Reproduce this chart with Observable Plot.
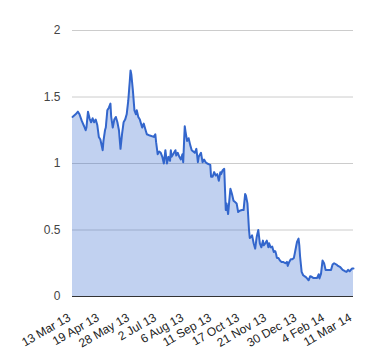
<!DOCTYPE html>
<html>
<head>
<meta charset="utf-8">
<script src="https://cdn.jsdelivr.net/npm/d3@7"></script>
<script src="https://cdn.jsdelivr.net/npm/@observablehq/plot@0.6"></script>
<style>
  html, body { margin: 0; padding: 0; background: #fff; }
  #chart svg { display: block; }
</style>
</head>
<body>
<div id="chart"></div>
<script>
const dates = [
  "2013-03-13","2013-03-17","2013-03-20","2013-03-22","2013-03-25","2013-03-28","2013-03-30","2013-03-31",
  "2013-04-02","2013-04-04","2013-04-06","2013-04-08","2013-04-10","2013-04-12","2013-04-14","2013-04-16",
  "2013-04-18","2013-04-21","2013-04-22","2013-04-24","2013-04-25","2013-04-27","2013-04-29","2013-05-01",
  "2013-05-02","2013-05-04","2013-05-06","2013-05-08","2013-05-10","2013-05-12","2013-05-14","2013-05-16",
  "2013-05-18","2013-05-20","2013-05-22","2013-05-24","2013-05-26","2013-05-27","2013-05-28","2013-05-30",
  "2013-06-01","2013-06-03","2013-06-04","2013-06-06","2013-06-08","2013-06-11","2013-06-13","2013-06-15",
  "2013-06-17","2013-06-21","2013-06-26","2013-06-28","2013-06-29","2013-07-01","2013-07-03","2013-07-05",
  "2013-07-07","2013-07-09","2013-07-11","2013-07-13","2013-07-15","2013-07-17","2013-07-18","2013-07-19",
  "2013-07-21","2013-07-24","2013-07-25","2013-07-27","2013-07-29","2013-07-31","2013-08-02","2013-08-03",
  "2013-08-05","2013-08-06","2013-08-08","2013-08-10","2013-08-12","2013-08-14","2013-08-16","2013-08-18",
  "2013-08-20","2013-08-22","2013-08-23","2013-08-26","2013-08-28","2013-08-30","2013-09-01","2013-09-03",
  "2013-09-07","2013-09-08","2013-09-10","2013-09-12","2013-09-14","2013-09-16","2013-09-18","2013-09-20",
  "2013-09-21","2013-09-23","2013-09-25","2013-09-27","2013-09-28","2013-09-30","2013-10-02","2013-10-03",
  "2013-10-05","2013-10-07","2013-10-09","2013-10-11","2013-10-13","2013-10-15","2013-10-18","2013-10-20",
  "2013-10-22","2013-10-23","2013-10-25","2013-10-27","2013-10-28","2013-10-30","2013-10-31","2013-11-02",
  "2013-11-04","2013-11-06","2013-11-08","2013-11-10","2013-11-12","2013-11-14","2013-11-15","2013-11-17",
  "2013-11-19","2013-11-21","2013-11-22","2013-11-24","2013-11-26","2013-11-28","2013-11-30","2013-12-01",
  "2013-12-02","2013-12-04","2013-12-06","2013-12-08","2013-12-10","2013-12-13","2013-12-15","2013-12-16",
  "2013-12-18","2013-12-20","2013-12-22","2013-12-24","2013-12-26","2013-12-28","2013-12-30","2013-12-31",
  "2014-01-01","2014-01-03","2014-01-05","2014-01-08","2014-01-10","2014-01-12","2014-01-14","2014-01-16",
  "2014-01-18","2014-01-20","2014-01-23","2014-01-25","2014-01-26","2014-01-28","2014-01-30","2014-02-01",
  "2014-02-03","2014-02-07","2014-02-10","2014-02-12","2014-02-14","2014-02-17","2014-02-19","2014-02-22",
  "2014-02-25","2014-02-28","2014-03-02","2014-03-04","2014-03-06","2014-03-09","2014-03-11"
];
const values = [
  1.35,1.37,1.39,1.37,1.32,1.28,1.25,1.27,
  1.39,1.34,1.31,1.34,1.31,1.33,1.29,1.20,
  1.18,1.10,1.17,1.25,1.27,1.40,1.42,1.45,
  1.35,1.27,1.33,1.35,1.31,1.25,1.11,1.22,
  1.31,1.33,1.37,1.47,1.62,1.70,1.67,1.55,
  1.40,1.37,1.40,1.35,1.33,1.27,1.30,1.26,
  1.22,1.21,1.20,1.22,1.16,1.07,1.09,1.08,
  1.05,1.00,1.10,1.00,1.05,1.02,1.10,1.05,
  1.07,1.10,1.06,1.08,1.05,1.03,1.07,1.01,
  1.28,1.24,1.17,1.19,1.14,1.10,1.09,1.08,
  1.11,1.01,1.05,1.08,1.01,1.03,1.01,1.00,
  0.99,0.90,0.90,0.935,0.91,0.92,0.87,0.935,
  0.92,0.95,0.96,0.65,0.70,0.62,0.75,0.81,
  0.77,0.72,0.71,0.70,0.635,0.645,0.65,0.65,
  0.77,0.76,0.70,0.50,0.44,0.45,0.46,0.40,
  0.36,0.45,0.50,0.40,0.37,0.42,0.385,0.40,
  0.42,0.37,0.40,0.37,0.375,0.335,0.34,0.32,
  0.29,0.29,0.27,0.26,0.26,0.25,0.26,0.23,
  0.26,0.28,0.28,0.29,0.35,0.41,0.435,0.385,
  0.30,0.185,0.16,0.148,0.136,0.122,0.152,0.148,
  0.14,0.14,0.14,0.167,0.136,0.17,0.27,0.25,
  0.20,0.20,0.20,0.24,0.25,0.24,0.23,0.22,
  0.20,0.19,0.185,0.20,0.19,0.21,0.21
];
const xTickDates = ["2013-03-13","2013-04-19","2013-05-28","2013-07-02","2013-08-06","2013-09-11","2013-10-17","2013-11-21","2013-12-30","2014-02-04","2014-03-11"];
const xTickLabels = ["13 Mar 13","19 Apr 13","28 May 13","2 Jul 13","6 Aug 13","11 Sep 13","17 Oct 13","21 Nov 13","30 Dec 13","4 Feb 14","11 Mar 14"];
const yTicks = [0, 0.5, 1, 1.5, 2];

const data = dates.map((d, i) => ({date: new Date(d), value: values[i]}));
const xTicks = xTickDates.map(d => new Date(d));
const labelOf = new Map(xTicks.map((d, i) => [+d, xTickLabels[i]]));

const chart = Plot.plot({
  width: 380,
  height: 360,
  marginLeft: 72,
  marginRight: 27,
  marginTop: 30,
  marginBottom: 64,
  style: {fontFamily: "'Liberation Sans', Arial, sans-serif", fontSize: "12px", color: "#222", background: "#fff"},
  x: {type: "utc", domain: [xTicks[0], xTicks[xTicks.length - 1]]},
  y: {domain: [0, 2]},
  marks: [
    Plot.gridY(yTicks.slice(1), {stroke: "#cccccc", strokeOpacity: 1}),
    Plot.areaY(data, {x: "date", y: "value", fill: "#3366cc", fillOpacity: 0.3}),
    Plot.lineY(data, {x: "date", y: "value", stroke: "#3366cc", strokeWidth: 2}),
    Plot.ruleY([0], {stroke: "#333333", strokeWidth: 1}),
    Plot.axisY(yTicks, {tickSize: 0, tickPadding: 12, label: null, fill: "#444", tickFormat: d => String(d)}),
    Plot.axisX(xTicks, {tickSize: 0, tickPadding: 20, tickRotate: -30, dx: -3, label: null, fill: "#222", tickFormat: d => labelOf.get(+d)})
  ]
});
document.getElementById("chart").appendChild(chart);
</script>
</body>
</html>
